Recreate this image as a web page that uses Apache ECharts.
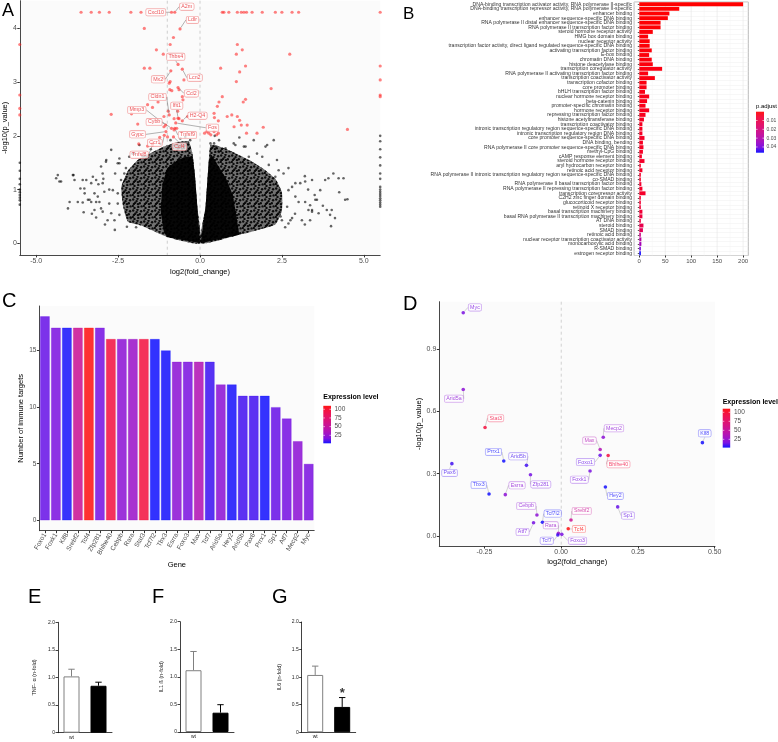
<!DOCTYPE html>
<html><head><meta charset="utf-8">
<script src="https://cdn.jsdelivr.net/npm/echarts@6.0.0/dist/echarts.min.js"></script>
<style>html,body{margin:0;padding:0;background:#fff;}#chart{width:778px;height:742px;}</style>
</head><body><div id="chart"></div>
<script>
// ================= DATA =================
// ---- Panel A : volcano plot ----
const aXTicks = [-5, -2.5, 0, 2.5, 5];
const aYTicks = [0, 1, 2, 3, 4];
const aThresholdLines = [-1, 0];
const aSigPoints = [
 [-3.63,4.30],[-3.32,4.30],[-3.07,4.30],[-2.77,4.30],[-2.11,4.30],[-1.80,4.30],[0.68,4.30],[0.73,4.30],[0.88,4.30],[1.14,4.30],[1.26,4.30],[1.34,4.30],[1.42,4.30],[1.59,4.30],[1.90,4.30],[2.30,4.30],[2.50,4.30],[2.81,4.30],[3.01,4.30],[5.5,4.30],
 [-1.70,4.0],[-0.81,3.83],[-0.91,3.70],[1.14,3.70],[-5.5,3.70],[1.29,3.60],[-1.33,3.60],[1.11,3.52],[-1.12,3.52],[2.74,3.52],
 [1.39,3.30],[-1.70,3.26],[-1.53,3.26],[0.63,3.26],[5.5,3.30],[1.21,3.19],[-0.49,3.04],[-1.11,3.07],[-0.91,3.01],[-0.94,2.98],[1.11,3.01],[5.5,3.04],
 [-0.64,2.86],[2.17,2.88],[-0.92,2.86],[-0.86,2.84],[-0.54,2.73],[0.68,2.73],[5.5,2.76],[-5.5,2.76],[5.5,2.73],[1.39,2.68],[1.32,2.63],[0.58,2.63],[-0.52,2.67],[-1.28,2.63],
 [0.53,2.55],[-5.5,2.51],[-1.45,2.53],[-1.60,2.58],[-0.97,2.46],[-0.68,2.46],[-2.71,2.40],[-5.5,2.39],[-2.09,2.41],[0.43,2.42],[0.83,2.36],[0.97,2.39],[1.14,2.36],[1.21,2.29],
 [-0.64,2.32],[-0.79,2.32],[-0.38,2.36],[0.44,2.34],[0.56,2.28],[-1.10,2.36],[-1.90,2.22],[1.26,2.20],[1.44,2.20],[1.04,2.17],[1.93,2.16],[4.50,2.12],[-1.10,2.17],[-0.71,2.14],[-0.79,2.11],
 [0.14,2.05],[0.21,2.08],[0.27,2.05],[0.33,2.02],[0.43,2.08],[0.56,2.05],[0.51,2.02],[1.74,2.05],[1.42,2.05],[-0.99,1.98],[-1.23,1.97],[-1.45,1.85],[-1.87,1.85],[-1.60,1.81]
];
const aLabelGenes = ['Cxcl10','A2m','Ldlr','Thbs4','Lcn2','Mx2','Ccl2','Cldn1','Ifit1','H2-Q4','Mmp3','Cybb','Fos','Gypc','Tnfsf9','Ccr1','Ccl4','Tnfsf8'];
const aLabelPoints = [[-0.87,4.30],[-0.77,4.30],[-0.61,3.99],[-0.67,3.33],[-0.54,3.24],[-0.89,3.21],[-0.67,2.90],[-0.94,2.39],[-0.67,2.33],[-0.54,2.28],[-1.05,2.20],[-0.87,2.14],[-0.74,2.24],[-1.04,2.08],[-0.77,2.14],[-1.09,2.01],[-0.81,1.98],[-1.45,1.83]];
const aBgPoints = [
 [-4.34,1.27],[-4.39,1.21],[-4.29,1.15],[-3.86,1.27],[-3.83,1.18],[-3.58,1.18],[-3.65,1.02],[-3.53,1.02],[-3.98,0.77],[-4.03,0.65],[-3.55,0.58],[-3.17,0.48],[-2.97,0.59],[-3.32,0.77],[-3.07,0.77],[-2.97,1.12],[-2.97,1.30],[-2.71,1.74],[-2.87,1.52],[-2.46,1.49],[-2.59,1.30],[-2.31,1.30],[-2.41,1.18],[-2.66,0.99],[-2.77,0.74],[-2.51,0.74],[-2.46,0.53],[-2.23,0.31],[-2.11,0.47],[-2.0,1.67],[-2.26,1.40],[-1.85,1.83],[-2.51,0.93],[-2.82,0.43],[-3.22,0.62],[-3.42,0.81],[-3.32,1.12],[-3.17,1.18],[-3.73,0.77],[-3.17,0.77],
 [-4.24,1.15],[-3.88,1.27],[-3.47,1.18],[-3.58,0.76],[-3.37,0.81],[-3.12,0.87],[-3.02,0.65],[-2.71,0.56],[-2.61,0.43],[-3.52,0.93],[-3.22,0.93],[-2.92,0.96],[-2.77,1.0],[-3.02,1.43],[-2.86,1.55],[-2.46,1.58],[-2.51,1.49],[-2.06,1.67],[-2.16,1.61],[-3.27,1.24],[-1.2,1.85],[-0.9,1.92],[-1.5,1.75],[-1.75,1.62],[-0.6,1.95],[-2.95,1.2],[-3.1,1.1],[-2.6,0.25],[-2.9,0.35],[-3.3,0.55],[-1.95,0.3],[-0.45,1.98],[-0.3,1.92],
 [-5.5,0.72],[-5.5,0.8],[-5.5,0.85],[-5.5,0.9],[-5.5,0.95],[-5.5,1.0],[-5.5,1.1],[-5.5,1.2],[-5.5,1.35],[-5.5,1.5],
 [3.82,1.18],[3.92,1.21],[4.07,1.30],[4.23,1.21],[4.38,1.21],[4.43,0.81],[4.02,0.62],[3.87,0.62],[3.97,0.53],[4.12,0.47],[4.0,0.32],[3.42,1.18],[3.21,1.15],[3.06,1.12],[2.91,1.12],[2.81,1.05],[2.70,0.99],[3.52,0.81],[3.36,0.71],[3.31,0.62],[3.62,0.56],[3.42,0.59],[3.21,0.77],[3.01,0.77],[2.91,0.87],[3.11,0.43],[2.81,0.47],[2.70,0.37],[2.50,0.43],[2.55,1.30],[2.40,1.36],[2.30,1.24],[2.10,1.46],[1.90,1.61],[2.0,1.80],[1.74,1.67],[1.49,1.61],[1.39,1.80],[1.08,1.83],[0.78,1.77],[0.58,1.70],[0.48,1.80],[0.32,1.86],[0.63,1.55],
 [2.25,1.92],[2.05,1.83],[2.35,1.55],[1.34,1.80],[1.03,1.86],[1.64,1.92],[0.43,1.86],[0.58,1.92],[0.45,2.0],[1.2,1.97],[3.36,0.43],[3.3,1.0],[3.5,0.9],[2.9,0.55],[3.2,0.35],[2.6,0.3],[3.75,0.7],[4.25,0.95],[4.5,0.82],[3.2,1.25],[2.7,1.4],[2.66,0.68],[2.46,0.50],[2.76,0.43],[3.67,0.99],[3.57,0.81],[3.42,0.62],
 [5.5,0.68],[5.5,0.72],[5.5,0.76],[5.5,0.8],[5.5,0.84],[5.5,0.88],[5.5,0.92],[5.5,0.96],[5.5,1.0],[5.5,1.05],[5.5,1.2],[5.5,1.3],[5.5,1.45],[5.5,1.6],[5.5,1.75],[5.5,1.9],[5.5,2.0]
];
// outlines of the point cloud (data coordinates): solid core and speckled surrounding region
const aCoreLeft = [[0,0],[-0.08,0.68],[-0.16,1.30],[-0.23,1.62],[-0.5,1.6],[-0.8,1.5],[-1.0,1.4],[-1.15,1.1],[-1.2,0.6],[-1.1,0.2],[-1.0,0.12]];
const aCoreRight = [[0.02,0],[0.17,0.68],[0.27,1.55],[0.35,1.65],[0.55,1.45],[0.8,1.2],[1.0,0.9],[1.1,0.55],[1.2,0.16]];
const aHaloLeft = [[0,0],[-0.08,0.68],[-0.16,1.30],[-0.23,1.67],[-0.35,1.9],[-0.7,1.88],[-1.1,1.8],[-1.5,1.68],[-1.9,1.55],[-2.2,1.35],[-2.4,1.05],[-2.35,0.7],[-2.2,0.4],[-1.8,0.33],[-1.0,0.12]];
const aHaloRight = [[0.02,0],[0.17,0.68],[0.27,1.55],[0.32,1.83],[0.6,1.8],[1.0,1.7],[1.5,1.55],[1.9,1.4],[2.3,1.2],[2.5,0.95],[2.5,0.6],[2.3,0.35],[1.6,0.22],[1.2,0.16]];

// ---- Panel B : GO enrichment ----
const goTerms = [
 'DNA-binding transcription activator activity, RNA polymerase II-specific',
 'DNA-binding transcription repressor activity, RNA polymerase II-specific',
 'enhancer binding',
 'enhancer sequence-specific DNA binding',
 'RNA polymerase II distal enhancer sequence-specific DNA binding',
 'RNA polymerase II transcription factor binding',
 'steroid hormone receptor activity',
 'HMG box domain binding',
 'nuclear receptor activity',
 'transcription factor activity, direct ligand regulated sequence-specific DNA binding',
 'activating transcription factor binding',
 'E-box binding',
 'chromatin DNA binding',
 'histone deacetylase binding',
 'transcription coregulator activity',
 'RNA polymerase II activating transcription factor binding',
 'transcription coactivator activity',
 'transcription cofactor binding',
 'core promoter binding',
 'bHLH transcription factor binding',
 'nuclear hormone receptor binding',
 'beta-catenin binding',
 'promoter-specific chromatin binding',
 'hormone receptor binding',
 'repressing transcription factor binding',
 'histone acetyltransferase binding',
 'transcription coactivator binding',
 'intronic transcription regulatory region sequence-specific DNA binding',
 'intronic transcription regulatory region DNA binding',
 'core promoter sequence-specific DNA binding',
 'DNA binding, bending',
 'RNA polymerase II core promoter sequence-specific DNA binding',
 'methyl-CpG binding',
 'cAMP response element binding',
 'steroid hormone receptor binding',
 'aryl hydrocarbon receptor binding',
 'retinoic acid receptor binding',
 'RNA polymerase II intronic transcription regulatory region sequence-specific DNA binding',
 'co-SMAD binding',
 'RNA polymerase II basal transcription factor binding',
 'RNA polymerase II repressing transcription factor binding',
 'transcription corepressor activity',
 'C2H2 zinc finger domain binding',
 'glucocorticoid receptor binding',
 'retinoid X receptor binding',
 'basal transcription machinery binding',
 'basal RNA polymerase II transcription machinery binding',
 'AT DNA binding',
 'steroid binding',
 'SMAD binding',
 'retinoic acid binding',
 'nuclear receptor transcription coactivator activity',
 'monocarboxylic acid binding',
 'R-SMAD binding',
 'estrogen receptor binding'
];
const goCounts = [200,77,58,55,41,41,26,17,20,20,24,19,24,26,44,17,30,14,14,11,19,15,12,19,12,9,6,6,6,10,7,8,7,5,10,3,6,3,3,4,6,12,3,3,3,6,6,3,8,7,3,4,4,3,3];
const goPadj = [0.00001,0.0001,0.0002,0.0003,0.0005,0.0005,0.001,0.001,0.001,0.001,0.0012,0.0012,0.0015,0.0015,0.002,0.002,0.002,0.002,0.0025,0.0025,0.003,0.003,0.003,0.0035,0.0035,0.004,0.004,0.004,0.0045,0.0045,0.004,0.004,0.0045,0.0045,0.005,0.005,0.005,0.0055,0.0055,0.006,0.005,0.005,0.006,0.006,0.007,0.007,0.008,0.009,0.011,0.013,0.022,0.028,0.032,0.039,0.046];
const bXTicks = [0, 50, 100, 150, 200];
const bMinorGrid = [25, 75, 125, 175];
const padjTicks = [0.01, 0.02, 0.03, 0.04];

// ---- Panels C & D : transcription factors ----
const genes = ['Foxo1','Foxk1','Klf8','Srebf2','Tcf4','Zfp281','Bhlhe40','Cebpb','Rara','Stat3','Tcf7l2','Tbx3','Esrra','Foxo3','Max','Tcf7','Arid5a','Hey2','Arid5b','Pax6','Prrx1','Sp1','Atf7','Mecp2','Myc'];
const immuneTargets = [18,17,17,17,17,17,16,16,16,16,16,15,14,14,14,14,12,12,11,11,11,10,9,7,5];
const exprLevel = [13,16,3,54,110,15,95,22,27,96,2,2.5,22,16,38,7.5,22,3,8.5,8.5,2.2,13,15,22,16];
const log2FC = [0.127,0.094,0.46,0.032,0.023,-0.10,0.153,-0.079,-0.009,-0.248,-0.061,-0.235,-0.182,0.002,0.127,-0.011,-0.319,0.144,-0.113,-0.356,-0.187,0.184,-0.09,0.137,-0.319];
const negLogP = [0.388,0.313,0.449,0.077,0.035,0.295,0.387,0.101,0.013,0.522,0.066,0.202,0.199,0.008,0.416,0.005,0.705,0.236,0.340,0.348,0.361,0.140,0.064,0.475,1.074];
const cYTicks = [0, 5, 10, 15];
const dXTicks = [-0.25, 0, 0.25, 0.5];
const dYTicks = [0, 0.3, 0.6, 0.9];
const exprTicks = [25, 50, 75, 100];

// ---- Panels E, F, G : cytokines ----
const efgGroups = ['wt', 'miR22-/-'];
const efgTitles = ['TNF- α (n-fold)', 'IL1 ß (n-fold)', 'IL6 (n-fold)'];
const wtMean = [1.02, 1.12, 1.04];
const wtErr = [0.13, 0.34, 0.16];
const koMean = [0.85, 0.35, 0.46];
const koErr = [0.065, 0.145, 0.17];
const sigMark = ['', '', '*'];

// ================= STYLE / LAYOUT =================
const FONT = '"Liberation Sans", Arial, Helvetica, sans-serif';
const aLabelOffsets = [[-15.7,0],[12,-5.6],[12.5,-9],[-2.3,-7.6],[12.5,8.5],[-12.7,8.5],[13.4,5.9],[-11.7,-17.9],[-1.3,-12.4],[15.2,-5.1],[-28.8,-15.1],[-17.4,-6.3],[36.7,4.8],[-28.4,2.8],[12.7,6.7],[-9.4,7.4],[6,9.8],[-13.3,9.7]];
const dLabelOffsets = [[-14.7,6.7],[-10.7,8.7],[2.3,-9.3],[10.7,-9],[10.7,0.3],[10.3,9.7],[10.3,8.7],[-10.7,-9],[-7.7,-8],[10.7,-9.3],[10.3,-8.7],[-10.3,-9],[11.7,-9.3],[15.7,6.3],[-10.7,-9],[-11,5.7],[-9.3,9.3],[10,9],[-8.3,-9],[-2.3,9.3],[-10.3,-9],[10.3,8.7],[-11,9.3],[10.7,-9],[11.7,-5.3]];

// speckle texture used to render the dense point cloud (fixed dot layout in a 11x11 tile)
const speckleTile = (function () {
  const c = document.createElement('canvas');
  c.width = 11; c.height = 11;
  const g = c.getContext('2d');
  g.fillStyle = 'rgba(0,0,0,0.9)';
  [[1.2,1.5],[5.5,0.8],[9.1,2.2],[7.8,5.2],[3.2,4.8],[6.3,8.9],[0.8,7.9],[4.6,3.1],[2.5,9.9],[9.6,8.4],[5.9,6.1],[1.9,5.9]].forEach(p => {
    g.beginPath(); g.arc(p[0], p[1], 1.2, 0, Math.PI * 2); g.fill();
  });
  return c;
})();

const gradStops = ['#0000FF','#7100E0','#9900C2','#B400A5','#C80088','#D9006C','#E7004F','#F30031','#FF0000'];
function hex2rgb(h){return [parseInt(h.slice(1,3),16),parseInt(h.slice(3,5),16),parseInt(h.slice(5,7),16)];}
function gradColor(t, a){
  t = Math.max(0, Math.min(1, t));
  const n = gradStops.length - 1;
  const i = Math.min(n - 1, Math.floor(t * n));
  const f = t * n - i;
  const c0 = hex2rgb(gradStops[i]), c1 = hex2rgb(gradStops[i + 1]);
  const c = c0.map((v, k) => Math.round(v + (c1[k] - v) * f));
  return 'rgba(' + c.join(',') + ',' + (a === undefined ? 1 : a) + ')';
}
const EXPR_MIN = 2, EXPR_MAX = 110, PADJ_MAX = 0.0465;
const exprColor = (v, a) => gradColor((v - EXPR_MIN) / (EXPR_MAX - EXPR_MIN), a);
const padjColor = (p, a) => gradColor(1 - p / PADJ_MAX, a);
const legendStops = gradStops.slice().reverse().map((c, i, arr) => ({offset: i / (arr.length - 1), color: c}));

const AX = '#333333', TICK = '#4d4d4d';

function valueAxis(gi, o) {
  return Object.assign({
    gridIndex: gi, type: 'value',
    axisLine: {show: true, onZero: false, lineStyle: {color: AX, width: 0.9}},
    axisTick: {show: true, length: 2.5, lineStyle: {color: AX, width: 0.8}},
    axisLabel: {fontSize: 7, color: TICK, margin: 3, fontFamily: FONT},
    splitLine: {show: false},
    nameLocation: 'middle',
    nameTextStyle: {fontSize: 7.5, color: '#000', fontFamily: FONT}
  }, o);
}
function vlineSeries(xi, yi, values, lineStyle, z) {
  return {
    type: 'custom', xAxisIndex: xi, yAxisIndex: yi, silent: true, z: z,
    data: values.map(v => [v, 0]),
    renderItem: (params, api) => {
      const cs = params.coordSys;
      const x = api.coord([api.value(0), 0])[0];
      return {type: 'line', shape: {x1: x, y1: cs.y, x2: x, y2: cs.y + cs.height}, style: Object.assign({fill: null}, lineStyle)};
    }
  };
}
function polySeries(poly, kind) {
  return {
    type: 'custom', xAxisIndex: 0, yAxisIndex: 0, silent: true, z: 1, data: [[0, 0]],
    renderItem: (params, api) => {
      const pts = poly.map(p => api.coord(p));
      if (kind === 'core') return {type: 'polygon', shape: {points: pts}, style: {fill: 'rgba(0,0,0,0.94)'}};
      return {type: 'group', children: [
        {type: 'polygon', shape: {points: pts, smooth: 0.15}, style: {fill: 'rgba(0,0,0,0.55)'}},
        {type: 'polygon', shape: {points: pts, smooth: 0.15}, style: {fill: {image: speckleTile, repeat: 'repeat'}}}
      ]};
    }
  };
}

const grid = [
  {left: 18.3, top: 0.7, width: 361.9, height: 254.2, show: true, backgroundColor: '#FBFBFB', borderWidth: 0},
  {left: 634.1, top: 2, width: 114.2, height: 253.5, show: true, backgroundColor: '#FFFFFF', borderColor: '#A8A8A8', borderWidth: 0.8},
  {left: 39.4, top: 306, width: 274.8, height: 224.7, show: true, backgroundColor: '#FBFBFB', borderWidth: 0},
  {left: 439.3, top: 301.7, width: 275.7, height: 244.3, show: true, backgroundColor: '#FBFBFB', borderWidth: 0},
  {left: 58, top: 622.3, width: 54, height: 110.4},
  {left: 180, top: 621.7, width: 54, height: 110.3},
  {left: 301.7, top: 622, width: 54, height: 110.3}
];

const xAxis = [
  valueAxis(0, {min: -5.5, max: 5.5, name: 'log2(fold_change)', nameGap: 13,
    axisTick: {show: true, length: 2.5, customValues: aXTicks, lineStyle: {color: AX}},
    axisLabel: {customValues: aXTicks, formatter: v => v.toFixed(1), fontSize: 7, color: TICK, margin: 3}}),
  valueAxis(1, {min: -10, max: 210, axisLine: {show: false},
    axisTick: {show: true, length: 2, customValues: bXTicks, lineStyle: {color: AX}},
    axisLabel: {customValues: bXTicks, fontSize: 6, color: TICK, margin: 3}}),
  {gridIndex: 2, type: 'category', data: genes, boundaryGap: true,
    axisLine: {show: true, onZero: false, lineStyle: {color: AX, width: 0.9}},
    axisTick: {show: true, alignWithLabel: true, length: 2.5, lineStyle: {color: AX}},
    axisLabel: {rotate: 60, interval: 0, fontSize: 6.5, color: TICK, margin: 3, fontFamily: FONT},
    name: 'Gene', nameLocation: 'middle', nameGap: 30, nameTextStyle: {fontSize: 7.5, color: '#000', fontFamily: FONT}},
  valueAxis(3, {min: -0.397, max: 0.501, name: 'log2(fold_change)', nameGap: 12,
    axisTick: {show: true, length: 2.5, customValues: dXTicks, lineStyle: {color: AX}},
    axisLabel: {customValues: dXTicks, formatter: v => v.toFixed(2), fontSize: 7, color: TICK, margin: 3}})
];
const yAxis = [
  valueAxis(0, {min: -0.215, max: 4.515, name: '-log10(p_value)', nameGap: 9,
    axisTick: {show: true, length: 2.5, customValues: aYTicks, lineStyle: {color: AX}},
    axisLabel: {customValues: aYTicks, fontSize: 7, color: TICK, margin: 3}}),
  {gridIndex: 1, type: 'category', data: goTerms, inverse: true, boundaryGap: true,
    axisLine: {show: false},
    axisTick: {show: true, alignWithLabel: true, length: 1.5, lineStyle: {color: '#555'}},
    axisLabel: {interval: 0, fontSize: 5.1, color: '#333', margin: 2, fontFamily: FONT},
    splitLine: {show: true, lineStyle: {color: '#EEEEEE', width: 0.5}}},
  valueAxis(2, {min: -0.9, max: 18.9, name: 'Number of immune targets', nameGap: 11,
    axisTick: {show: true, length: 2.5, customValues: cYTicks, lineStyle: {color: AX}},
    axisLabel: {customValues: cYTicks, fontSize: 6.5, color: TICK, margin: 3}}),
  valueAxis(3, {min: -0.048, max: 1.127, name: '-log10(p_value)', nameGap: 16,
    axisTick: {show: true, length: 2.5, customValues: dYTicks, lineStyle: {color: AX}},
    axisLabel: {customValues: dYTicks, formatter: v => v.toFixed(1), fontSize: 7, color: TICK, margin: 3}})
];
const efgNameGaps = [21, 16, 19];
for (let k = 0; k < 3; k++) {
  xAxis.push({gridIndex: 4 + k, type: 'category', data: efgGroups,
    axisLine: {show: true, onZero: false, lineStyle: {color: '#111', width: 0.8}},
    axisTick: {show: false},
    axisLabel: {fontSize: 5, color: '#222', margin: 2, fontFamily: FONT,
      formatter: v => v === 'miR22-/-' ? 'miR22{s|-/-}' : v,
      rich: {s: {fontSize: 3.5, color: '#222', padding: [0, 0, 3, 0]}}}});
  yAxis.push({gridIndex: 4 + k, type: 'value', min: 0, max: 2, interval: 0.5,
    axisLine: {show: true, onZero: false, lineStyle: {color: '#111', width: 0.8}},
    axisTick: {show: true, length: 2.5, lineStyle: {color: '#111', width: 0.8}},
    axisLabel: {fontSize: 5, color: '#222', margin: 3, fontFamily: FONT, formatter: v => v === 0 ? '0' : v.toFixed(1)},
    splitLine: {show: false},
    name: efgTitles[k], nameLocation: 'middle', nameGap: efgNameGaps[k],
    nameTextStyle: {fontSize: 5.5, color: '#222', fontFamily: FONT}});
}

const series = [];
// ---- A ----
series.push(vlineSeries(0, 0, aThresholdLines, {stroke: '#C4C4C4', lineWidth: 0.8, lineDash: [3, 3]}, 0));
series.push(polySeries(aHaloLeft, 'halo'));
series.push(polySeries(aHaloRight, 'halo'));
series.push(polySeries(aCoreLeft, 'core'));
series.push(polySeries(aCoreRight, 'core'));
series.push({type: 'scatter', xAxisIndex: 0, yAxisIndex: 0, data: aBgPoints, symbolSize: 2.6, silent: true, z: 2,
  itemStyle: {color: 'rgba(0,0,0,0.75)'}});
series.push({type: 'scatter', xAxisIndex: 0, yAxisIndex: 0, data: aSigPoints, symbolSize: 3.2, silent: true, z: 3,
  itemStyle: {color: 'rgba(255,30,30,0.7)'}});
series.push({type: 'scatter', xAxisIndex: 0, yAxisIndex: 0, z: 4, symbolSize: 3.2,
  data: aLabelGenes.map((g, i) => ({name: g, value: aLabelPoints[i]})),
  itemStyle: {color: 'rgba(255,30,30,0.75)'},
  label: {show: true, position: 'inside', formatter: '{b}', fontSize: 5.3, fontFamily: FONT, color: '#E8242A',
    backgroundColor: 'rgba(255,255,255,0.92)', borderColor: '#F08A8A', borderWidth: 0.6, borderRadius: 1.5, padding: [1.2, 1.6, 0.6, 1.6]},
  labelLine: {show: true, length2: 0, lineStyle: {color: '#666', width: 0.5}},
  labelLayout: p => ({dx: aLabelOffsets[p.dataIndex][0], dy: aLabelOffsets[p.dataIndex][1]})
});
// ---- B ----
series.push(vlineSeries(1, 1, bMinorGrid, {stroke: '#F3F3F3', lineWidth: 0.5}, 0));
series.push(vlineSeries(1, 1, bXTicks, {stroke: '#E4E4E4', lineWidth: 0.6}, 0));
series.push({type: 'bar', xAxisIndex: 1, yAxisIndex: 1, barCategoryGap: '16%', z: 3,
  data: goCounts.map((v, i) => ({value: v, itemStyle: {color: padjColor(goPadj[i])}}))});
// ---- C ----
series.push({type: 'bar', xAxisIndex: 2, yAxisIndex: 2, barCategoryGap: '10%', z: 3,
  data: immuneTargets.map((v, i) => ({value: v, itemStyle: {color: exprColor(exprLevel[i], 0.8), borderColor: exprColor(exprLevel[i], 0.35), borderWidth: 0.8}}))});
// ---- D ----
series.push(vlineSeries(3, 3, [0], {stroke: '#C8C8C8', lineWidth: 0.8, lineDash: [3, 3]}, 0));
series.push({type: 'scatter', xAxisIndex: 3, yAxisIndex: 3, z: 4, symbolSize: 3.6,
  data: genes.map((g, i) => ({name: g, value: [log2FC[i], negLogP[i]],
    itemStyle: {color: exprColor(exprLevel[i], 1)},
    label: {color: exprColor(exprLevel[i], 0.9), borderColor: exprColor(exprLevel[i], 0.45)}})),
  label: {show: true, position: 'inside', formatter: '{b}', fontSize: 5.3, fontFamily: FONT,
    backgroundColor: 'rgba(255,255,255,0.85)', borderWidth: 0.6, borderRadius: 1.5, padding: [1.2, 1.6, 0.6, 1.6]},
  labelLine: {show: true, length2: 0, lineStyle: {color: '#AAAAAA', width: 0.5}},
  labelLayout: p => ({dx: dLabelOffsets[p.dataIndex][0], dy: dLabelOffsets[p.dataIndex][1]})
});
// ---- E, F, G ----
function errRender(params, api) {
  const c = api.value(0) === 0 ? '#808080' : '#000000';
  const base = api.coord([api.value(0), api.value(1)]);
  const top = api.coord([api.value(0), api.value(1) + api.value(2)]);
  return {type: 'group', children: [
    {type: 'line', shape: {x1: base[0], y1: base[1], x2: top[0], y2: top[1]}, style: {stroke: c, lineWidth: 1}},
    {type: 'line', shape: {x1: top[0] - 3.2, y1: top[1], x2: top[0] + 3.2, y2: top[1]}, style: {stroke: c, lineWidth: 1}}
  ]};
}
for (let k = 0; k < 3; k++) {
  series.push({type: 'bar', xAxisIndex: 4 + k, yAxisIndex: 4 + k, barWidth: 16, z: 2,
    data: [{value: wtMean[k], itemStyle: {color: '#FFFFFF', borderColor: '#808080', borderWidth: 1}},
           {value: koMean[k], itemStyle: {color: '#000000', borderColor: '#000000', borderWidth: 1}}]});
  series.push({type: 'custom', xAxisIndex: 4 + k, yAxisIndex: 4 + k, z: 3, silent: true,
    data: [[0, wtMean[k], wtErr[k]], [1, koMean[k], koErr[k]]], renderItem: errRender});
  if (sigMark[k]) {
    series.push({type: 'scatter', xAxisIndex: 4 + k, yAxisIndex: 4 + k, z: 4, symbolSize: 1, silent: true,
      itemStyle: {color: 'rgba(0,0,0,0)'},
      data: [[1, koMean[k] + koErr[k] + 0.08]],
      label: {show: true, position: 'inside', formatter: sigMark[k], fontSize: 13, fontWeight: 'bold', color: '#000', fontFamily: FONT}});
  }
}

// ---- graphic: panel letters and colour legends ----
const graphic = [];
[['A', 2, 2.3, 18], ['B', 403, 5.5, 17], ['C', 2, 291.5, 20], ['D', 403, 294.5, 20], ['E', 28, 587, 20], ['F', 152, 587, 20], ['G', 272, 587, 20]]
  .forEach(([t, x, y, s]) => graphic.push({type: 'text', x: x, y: y, silent: true,
    style: {text: t, fontSize: s, fontFamily: FONT, fill: '#000', align: 'left', verticalAlign: 'top'}}));

function colorLegend(title, bold, tx, ty, bx, by, bw, bh, ticks, valToY, fmt, labelX, labelSize) {
  graphic.push({type: 'text', x: tx, y: ty, silent: true,
    style: {text: title, fontSize: bold ? 7 : 6, fontWeight: bold ? 'bold' : 'normal', fontFamily: FONT, fill: '#000', align: 'left', verticalAlign: 'middle'}});
  graphic.push({type: 'rect', silent: true, shape: {x: bx, y: by, width: bw, height: bh},
    style: {fill: {type: 'linear', x: 0, y: 0, x2: 0, y2: 1, colorStops: legendStops}, opacity: 0.92}});
  ticks.forEach(v => {
    const y = valToY(v);
    graphic.push({type: 'line', silent: true, shape: {x1: bx, y1: y, x2: bx + 1.6, y2: y}, style: {stroke: '#fff', lineWidth: 0.6}});
    graphic.push({type: 'line', silent: true, shape: {x1: bx + bw - 1.6, y1: y, x2: bx + bw, y2: y}, style: {stroke: '#fff', lineWidth: 0.6}});
    graphic.push({type: 'text', x: labelX, y: y, silent: true,
      style: {text: fmt(v), fontSize: labelSize, fontFamily: FONT, fill: TICK, align: 'left', verticalAlign: 'middle'}});
  });
}
colorLegend('p.adjust', false, 756, 106.5, 756, 111.7, 8, 41, padjTicks, p => 111.7 + p / PADJ_MAX * 41, v => v.toFixed(2), 766.5, 5);
colorLegend('Expression level', true, 323.3, 397.3, 323.3, 405.8, 7.7, 37.5, exprTicks, v => 405.8 + (EXPR_MAX - v) / (EXPR_MAX - EXPR_MIN) * 37.5, v => String(v), 334.5, 6.5);
colorLegend('Expression level', true, 722.7, 401.7, 722.7, 408.7, 7.5, 38.9, exprTicks, v => 408.7 + (EXPR_MAX - v) / (EXPR_MAX - EXPR_MIN) * 38.9, v => String(v), 734, 6.5);

const chart = echarts.init(document.getElementById('chart'), null, {renderer: 'canvas'});
chart.setOption({
  animation: false,
  backgroundColor: '#ffffff',
  textStyle: {fontFamily: FONT},
  grid: grid, xAxis: xAxis, yAxis: yAxis, series: series, graphic: graphic
});
</script></body></html>
